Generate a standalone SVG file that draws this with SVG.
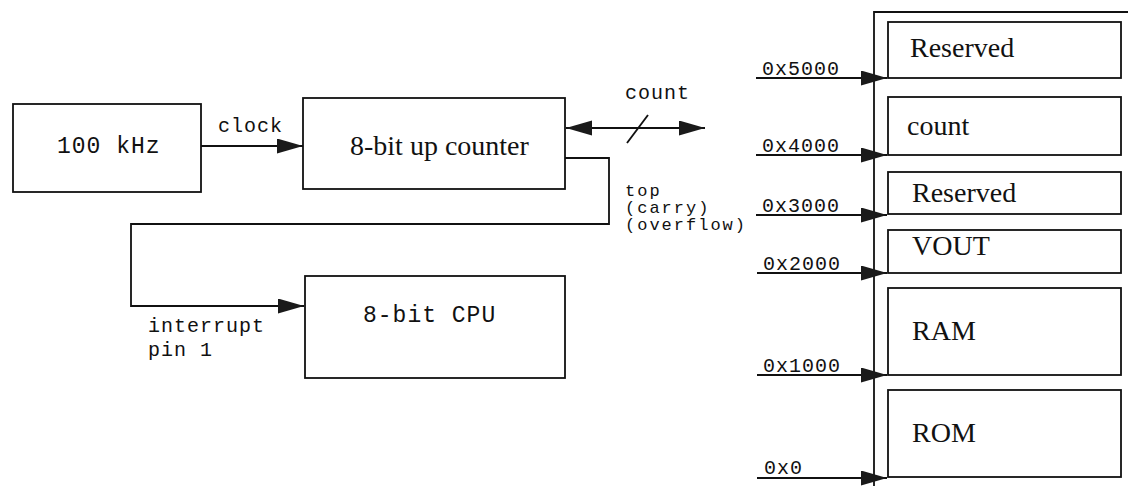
<svg xmlns="http://www.w3.org/2000/svg" width="1128" height="486" viewBox="0 0 1128 486">
  <style>
    .box { fill: #fff; stroke: #111; stroke-width: 1.8; }
    .wire { fill: none; stroke: #111; stroke-width: 1.8; }
    .mono { font-family: "Liberation Mono", "Courier New", monospace; fill: #111; }
    .serif { font-family: "Liberation Serif", "Times New Roman", serif; fill: #111; font-size: 28px; }
    .lbl { font-size: 20px; letter-spacing: 1px; }
    .sm { font-size: 17px; letter-spacing: 2px; }
    .big { font-size: 23px; letter-spacing: 1px; }
  </style>
  <defs>
    <marker id="arr" markerUnits="userSpaceOnUse" markerWidth="28" markerHeight="16" refX="26" refY="7.5" orient="auto-start-reverse">
      <path d="M0,0 L26,7.5 L0,15 z" fill="#1a1a1a"/>
    </marker>
  </defs>
  <rect width="1128" height="486" fill="#fff"/>

  <g id="connectors">
    <path class="wire" d="M201,146 L303,146" marker-end="url(#arr)"/>
    <path class="wire" d="M566,128 L705,128" marker-start="url(#arr)" marker-end="url(#arr)"/>
    <path class="wire" d="M627,143 L648,115"/>
    <path class="wire" d="M565,158 L609,158 L609,224 L131,224 L131,306 L304,306" marker-end="url(#arr)"/>
    <path class="wire" d="M874,486 L874,12 L1128,12"/>
    <path class="wire" d="M756,78 L887,78" marker-end="url(#arr)"/>
    <path class="wire" d="M756,155 L887,155" marker-end="url(#arr)"/>
    <path class="wire" d="M756,215 L887,215" marker-end="url(#arr)"/>
    <path class="wire" d="M757,273 L887,273" marker-end="url(#arr)"/>
    <path class="wire" d="M757,375 L887,375" marker-end="url(#arr)"/>
    <path class="wire" d="M757,478 L887,478" marker-end="url(#arr)"/>
  </g>

  <g id="labels">
    <text class="mono lbl" x="218" y="132">clock</text>
    <text class="mono lbl" x="625" y="99">count</text>
    <text class="mono sm" x="625" y="196">top</text>
    <text class="mono sm" x="625" y="213">(carry)</text>
    <text class="mono sm" x="625" y="230">(overflow)</text>
    <text class="mono lbl" x="148" y="332">interrupt</text>
    <text class="mono lbl" x="148" y="356">pin 1</text>
    <text class="mono lbl" x="762" y="75">0x5000</text>
    <text class="mono lbl" x="762" y="152">0x4000</text>
    <text class="mono lbl" x="762" y="212">0x3000</text>
    <text class="mono lbl" x="763" y="270">0x2000</text>
    <text class="mono lbl" x="763" y="372">0x1000</text>
    <text class="mono lbl" x="764" y="474">0x0</text>
  </g>

  <g id="osc">
    <rect class="box" x="13" y="104" width="188" height="88"/>
    <text class="mono big" x="57" y="153">100 kHz</text>
  </g>
  <g id="counter">
    <rect class="box" x="303" y="98" width="262" height="91"/>
    <text class="serif" x="350" y="155">8-bit up counter</text>
  </g>
  <g id="cpu">
    <rect class="box" x="305" y="276" width="260" height="102"/>
    <text class="mono big" x="363" y="322">8-bit CPU</text>
  </g>

  <g id="mem-reserved-5000">
    <rect class="box" x="888" y="22" width="233" height="56"/>
    <text class="serif" x="910" y="57">Reserved</text>
  </g>
  <g id="mem-count">
    <rect class="box" x="888" y="97" width="233" height="58"/>
    <text class="serif" x="907" y="135">count</text>
  </g>
  <g id="mem-reserved-3000">
    <rect class="box" x="888" y="172" width="233" height="42"/>
    <text class="serif" x="912" y="202">Reserved</text>
  </g>
  <g id="mem-vout">
    <rect class="box" x="888" y="230" width="233" height="43"/>
    <text class="serif" x="912" y="255">VOUT</text>
  </g>
  <g id="mem-ram">
    <rect class="box" x="888" y="288" width="233" height="87"/>
    <text class="serif" x="912" y="340">RAM</text>
  </g>
  <g id="mem-rom">
    <rect class="box" x="888" y="390" width="233" height="87"/>
    <text class="serif" x="912" y="442">ROM</text>
  </g>
</svg>
